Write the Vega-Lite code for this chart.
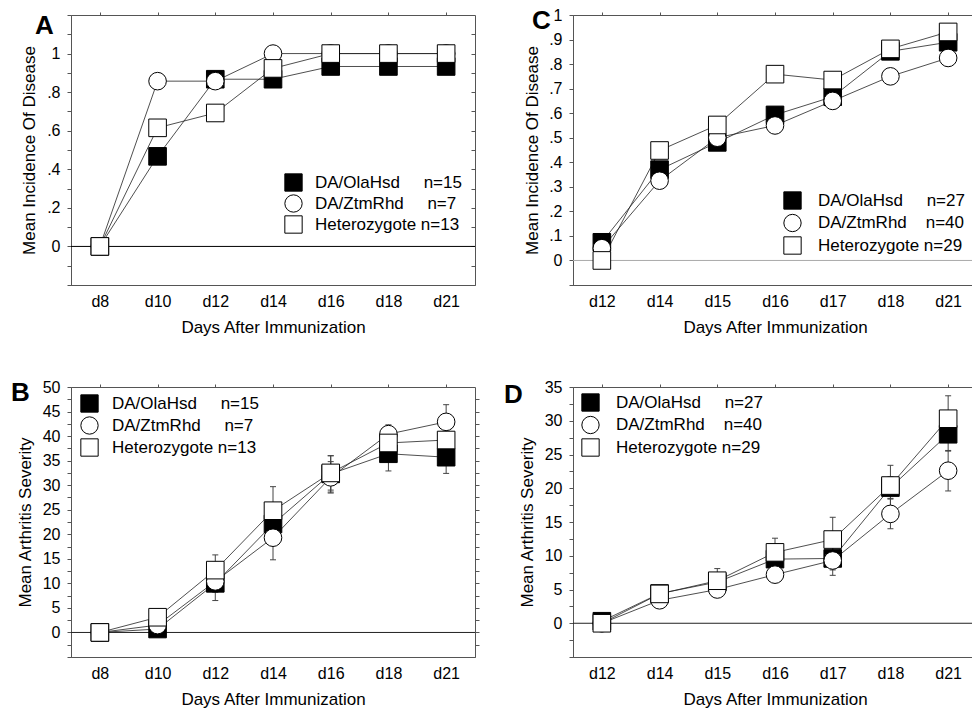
{
  "$schema": "https://vega.github.io/schema/vega-lite/v6.json",
  "padding": {"left": 10, "top": 6, "right": 0, "bottom": 0},
  "background": "white",
  "columns": 2,
  "spacing": {"row": 102, "column": 98},
  "bounds": "flush",
  "resolve": {"scale": {"shape": "independent", "fill": "independent"}, "legend": {"shape": "independent", "fill": "independent"}},
  "datasets": {
    "incA": [
      {"day": 8, "strain": "DA/OlaHsd", "v": 0}, {"day": 10, "strain": "DA/OlaHsd", "v": 0.467}, {"day": 12, "strain": "DA/OlaHsd", "v": 0.867}, {"day": 14, "strain": "DA/OlaHsd", "v": 0.867}, {"day": 16, "strain": "DA/OlaHsd", "v": 0.933}, {"day": 18, "strain": "DA/OlaHsd", "v": 0.933}, {"day": 21, "strain": "DA/OlaHsd", "v": 0.933},
      {"day": 8, "strain": "DA/ZtmRhd", "v": 0}, {"day": 10, "strain": "DA/ZtmRhd", "v": 0.857}, {"day": 12, "strain": "DA/ZtmRhd", "v": 0.857}, {"day": 14, "strain": "DA/ZtmRhd", "v": 1}, {"day": 16, "strain": "DA/ZtmRhd", "v": 1}, {"day": 18, "strain": "DA/ZtmRhd", "v": 1}, {"day": 21, "strain": "DA/ZtmRhd", "v": 1},
      {"day": 8, "strain": "Heterozygote", "v": 0}, {"day": 10, "strain": "Heterozygote", "v": 0.615}, {"day": 12, "strain": "Heterozygote", "v": 0.692}, {"day": 14, "strain": "Heterozygote", "v": 0.923}, {"day": 16, "strain": "Heterozygote", "v": 1}, {"day": 18, "strain": "Heterozygote", "v": 1}, {"day": 21, "strain": "Heterozygote", "v": 1}
    ],
    "incC": [
      {"day": 12, "strain": "DA/OlaHsd", "v": 0.074}, {"day": 14, "strain": "DA/OlaHsd", "v": 0.37}, {"day": 15, "strain": "DA/OlaHsd", "v": 0.481}, {"day": 16, "strain": "DA/OlaHsd", "v": 0.593}, {"day": 17, "strain": "DA/OlaHsd", "v": 0.667}, {"day": 18, "strain": "DA/OlaHsd", "v": 0.852}, {"day": 21, "strain": "DA/OlaHsd", "v": 0.889},
      {"day": 12, "strain": "DA/ZtmRhd", "v": 0.05}, {"day": 14, "strain": "DA/ZtmRhd", "v": 0.325}, {"day": 15, "strain": "DA/ZtmRhd", "v": 0.5}, {"day": 16, "strain": "DA/ZtmRhd", "v": 0.55}, {"day": 17, "strain": "DA/ZtmRhd", "v": 0.65}, {"day": 18, "strain": "DA/ZtmRhd", "v": 0.75}, {"day": 21, "strain": "DA/ZtmRhd", "v": 0.825},
      {"day": 12, "strain": "Heterozygote", "v": 0}, {"day": 14, "strain": "Heterozygote", "v": 0.448}, {"day": 15, "strain": "Heterozygote", "v": 0.552}, {"day": 16, "strain": "Heterozygote", "v": 0.759}, {"day": 17, "strain": "Heterozygote", "v": 0.735}, {"day": 18, "strain": "Heterozygote", "v": 0.862}, {"day": 21, "strain": "Heterozygote", "v": 0.931}
    ],
    "sevB": [
      {"day": 8, "strain": "DA/OlaHsd", "v": 0}, {"day": 10, "strain": "DA/OlaHsd", "v": 0.7, "lo": 0.2, "hi": 1.2}, {"day": 12, "strain": "DA/OlaHsd", "v": 10.0, "lo": 8.2, "hi": 11.8}, {"day": 14, "strain": "DA/OlaHsd", "v": 22.1, "lo": 19.8, "hi": 24.4}, {"day": 16, "strain": "DA/OlaHsd", "v": 32.3, "lo": 28.6, "hi": 36.0}, {"day": 18, "strain": "DA/OlaHsd", "v": 36.4, "lo": 32.9, "hi": 39.9}, {"day": 21, "strain": "DA/OlaHsd", "v": 35.7, "lo": 32.4, "hi": 39.0},
      {"day": 8, "strain": "DA/ZtmRhd", "v": 0}, {"day": 10, "strain": "DA/ZtmRhd", "v": 1.5, "lo": 0.5, "hi": 2.5}, {"day": 12, "strain": "DA/ZtmRhd", "v": 10.4, "lo": 6.5, "hi": 14.3}, {"day": 14, "strain": "DA/ZtmRhd", "v": 19.3, "lo": 14.8, "hi": 23.8}, {"day": 16, "strain": "DA/ZtmRhd", "v": 31.6, "lo": 28.4, "hi": 34.8}, {"day": 18, "strain": "DA/ZtmRhd", "v": 40.4, "lo": 38.5, "hi": 42.3}, {"day": 21, "strain": "DA/ZtmRhd", "v": 42.9, "lo": 39.4, "hi": 46.4},
      {"day": 8, "strain": "Heterozygote", "v": 0}, {"day": 10, "strain": "Heterozygote", "v": 3.1, "lo": 2.1, "hi": 4.1}, {"day": 12, "strain": "Heterozygote", "v": 12.7, "lo": 9.6, "hi": 15.8}, {"day": 14, "strain": "Heterozygote", "v": 24.8, "lo": 19.9, "hi": 29.7}, {"day": 16, "strain": "Heterozygote", "v": 32.5, "lo": 29.0, "hi": 36.0}, {"day": 18, "strain": "Heterozygote", "v": 38.6, "lo": 36.1, "hi": 41.1}, {"day": 21, "strain": "Heterozygote", "v": 39.2, "lo": 35.9, "hi": 42.5}
    ],
    "sevD": [
      {"day": 12, "strain": "DA/OlaHsd", "v": 0.3, "lo": 0, "hi": 1.3}, {"day": 14, "strain": "DA/OlaHsd", "v": 4.4, "lo": 3.6, "hi": 5.2}, {"day": 15, "strain": "DA/OlaHsd", "v": 6.1, "lo": 4.9, "hi": 7.3}, {"day": 16, "strain": "DA/OlaHsd", "v": 9.5, "lo": 8.0, "hi": 11.0}, {"day": 17, "strain": "DA/OlaHsd", "v": 9.6, "lo": 7.9, "hi": 11.3}, {"day": 18, "strain": "DA/OlaHsd", "v": 20.1, "lo": 18.5, "hi": 21.7}, {"day": 21, "strain": "DA/OlaHsd", "v": 28.0, "lo": 25.5, "hi": 30.5},
      {"day": 12, "strain": "DA/ZtmRhd", "v": 0}, {"day": 14, "strain": "DA/ZtmRhd", "v": 3.4, "lo": 2.8, "hi": 4.0}, {"day": 15, "strain": "DA/ZtmRhd", "v": 5.0, "lo": 4.2, "hi": 5.8}, {"day": 16, "strain": "DA/ZtmRhd", "v": 7.2, "lo": 6.2, "hi": 8.2}, {"day": 17, "strain": "DA/ZtmRhd", "v": 9.3, "lo": 7.1, "hi": 11.5}, {"day": 18, "strain": "DA/ZtmRhd", "v": 16.2, "lo": 14.0, "hi": 18.4}, {"day": 21, "strain": "DA/ZtmRhd", "v": 22.6, "lo": 19.6, "hi": 25.6},
      {"day": 12, "strain": "Heterozygote", "v": 0}, {"day": 14, "strain": "Heterozygote", "v": 4.35, "lo": 3.15, "hi": 5.55}, {"day": 15, "strain": "Heterozygote", "v": 6.3, "lo": 4.5, "hi": 8.1}, {"day": 16, "strain": "Heterozygote", "v": 10.5, "lo": 8.4, "hi": 12.6}, {"day": 17, "strain": "Heterozygote", "v": 12.4, "lo": 9.1, "hi": 15.7}, {"day": 18, "strain": "Heterozygote", "v": 20.4, "lo": 17.4, "hi": 23.4}, {"day": 21, "strain": "Heterozygote", "v": 30.3, "lo": 26.9, "hi": 33.7}
    ]
  },
  "concat": [
    {
      "width": 404, "height": 270,
      "title": {"text": "A", "anchor": "start", "frame": "group", "fontSize": 26, "fontWeight": "bold", "color": "black", "dx": -36, "offset": 0, "dy": 48, "baseline": "alphabetic"},
      "data": {"name": "incA"},
      "resolve": {"axis": {"x": "independent", "y": "independent"}},
      "layer": [
        {"data": {"values": [{}]}, "mark": {"type": "rule", "color": "black", "strokeWidth": 1}, "encoding": {"y": {"datum": 0, "type": "quantitative", "scale": {"domain": [-0.2, 1.2], "nice": false, "zero": false}, "axis": null}}},
        {"mark": {"type": "line", "color": "#222", "strokeWidth": 0.8}, "encoding": {
          "x": {"field": "day", "type": "ordinal", "scale": {"type": "point", "padding": 0.5, "domain": [8, 10, 12, 14, 16, 18, 21]}, "axis": {"orient": "bottom", "title": "Days After Immunization", "labelExpr": "'d' + datum.value", "labelAngle": 0, "ticks": false, "labelPadding": 8, "titlePadding": 10}},
          "y": {"field": "v", "type": "quantitative", "scale": {"domain": [-0.2, 1.2], "nice": false, "zero": false}, "axis": {"orient": "left", "title": "Mean Incidence Of Disease", "values": [-0.2, -0.1, 0, 0.1, 0.2, 0.3, 0.4, 0.5, 0.6, 0.7, 0.8, 0.9, 1, 1.1, 1.2], "labelExpr": "datum.value < -0.001 || datum.value > 1.001 || round(datum.value*10) % 2 != 0 ? '' : datum.value == 0 ? '0' : datum.value == 1 ? '1' : replace(format(datum.value, '.1f'), '0.', '.')", "tickSize": 4, "labelPadding": 7, "titlePadding": 8}},
          "detail": {"field": "strain"}}},
        {"mark": {"type": "point", "filled": true, "stroke": "black", "strokeWidth": 1, "opacity": 1, "size": 310}, "encoding": {
          "x": {"field": "day", "type": "ordinal", "scale": {"type": "point", "padding": 0.5, "domain": [8, 10, 12, 14, 16, 18, 21]}, "axis": {"orient": "top", "labels": false, "title": null, "domain": false, "tickSize": 3}},
          "y": {"field": "v", "type": "quantitative", "scale": {"domain": [-0.2, 1.2], "nice": false, "zero": false}, "axis": {"orient": "right", "labels": false, "title": null, "domain": false, "tickSize": -4, "values": [-0.1, 0, 0.1, 0.2, 0.3, 0.4, 0.5, 0.6, 0.7, 0.8, 0.9, 1, 1.1]}},
          "shape": {"field": "strain", "type": "nominal", "scale": {"domain": ["DA/OlaHsd", "DA/ZtmRhd", "Heterozygote"], "range": ["square", "circle", "square"]},
            "legend": {"orient": "none", "legendX": 213, "legendY": 158, "title": null, "padding": 0, "symbolSize": 300, "symbolStrokeWidth": 1, "labelOffset": 12, "rowPadding": -3, "labelExpr": "datum.value == 'DA/OlaHsd' ? 'DA/OlaHsd\u00a0\u00a0\u00a0\u00a0\u00a0n=15' : datum.value == 'DA/ZtmRhd' ? 'DA/ZtmRhd\u00a0\u00a0\u00a0\u00a0\u00a0n=7' : 'Heterozygote n=13'"}},
          "fill": {"field": "strain", "type": "nominal", "scale": {"domain": ["DA/OlaHsd", "DA/ZtmRhd", "Heterozygote"], "range": ["black", "white", "white"]},
            "legend": {"orient": "none", "legendX": 213, "legendY": 158, "title": null, "padding": 0, "symbolSize": 300, "symbolStrokeWidth": 1, "labelOffset": 12, "rowPadding": -3, "labelExpr": "datum.value == 'DA/OlaHsd' ? 'DA/OlaHsd\u00a0\u00a0\u00a0\u00a0\u00a0n=15' : datum.value == 'DA/ZtmRhd' ? 'DA/ZtmRhd\u00a0\u00a0\u00a0\u00a0\u00a0n=7' : 'Heterozygote n=13'"}}
        }}
      ]
    },
    {
      "width": 404, "height": 270,
      "title": {"text": "C", "anchor": "start", "frame": "group", "fontSize": 26, "fontWeight": "bold", "color": "black", "dx": -41, "offset": 0, "dy": 48, "baseline": "alphabetic"},
      "data": {"name": "incC"},
      "resolve": {"axis": {"x": "independent", "y": "independent"}},
      "layer": [
        {"data": {"values": [{}]}, "mark": {"type": "rule", "color": "#aaa", "strokeWidth": 1}, "encoding": {"y": {"datum": 0, "type": "quantitative", "scale": {"domain": [-0.1, 1.0], "nice": false, "zero": false}, "axis": null}}},
        {"mark": {"type": "line", "color": "#222", "strokeWidth": 0.8}, "encoding": {
          "x": {"field": "day", "type": "ordinal", "scale": {"type": "point", "padding": 0.5, "domain": [12, 14, 15, 16, 17, 18, 21]}, "axis": {"orient": "bottom", "title": "Days After Immunization", "labelExpr": "'d' + datum.value", "labelAngle": 0, "ticks": false, "labelPadding": 8, "titlePadding": 10}},
          "y": {"field": "v", "type": "quantitative", "scale": {"domain": [-0.1, 1.0], "nice": false, "zero": false}, "axis": {"orient": "left", "title": "Mean Incidence Of Disease", "values": [-0.1, 0, 0.1, 0.2, 0.3, 0.4, 0.5, 0.6, 0.7, 0.8, 0.9, 1], "labelExpr": "datum.value < -0.001 ? '' : datum.value == 0 ? '0' : datum.value == 1 ? '1' : replace(format(datum.value, '.1f'), '0.', '.')", "tickSize": 4, "labelPadding": 7, "titlePadding": 7}},
          "detail": {"field": "strain"}}},
        {"mark": {"type": "point", "filled": true, "stroke": "black", "strokeWidth": 1, "opacity": 1, "size": 310}, "encoding": {
          "x": {"field": "day", "type": "ordinal", "scale": {"type": "point", "padding": 0.5, "domain": [12, 14, 15, 16, 17, 18, 21]}, "axis": {"orient": "top", "labels": false, "title": null, "domain": false, "tickSize": 3}},
          "y": {"field": "v", "type": "quantitative", "scale": {"domain": [-0.1, 1.0], "nice": false, "zero": false}, "axis": null},
          "shape": {"field": "strain", "type": "nominal", "scale": {"domain": ["DA/OlaHsd", "DA/ZtmRhd", "Heterozygote"], "range": ["square", "circle", "square"]},
            "legend": {"orient": "none", "legendX": 210, "legendY": 176, "title": null, "padding": 0, "symbolSize": 300, "symbolStrokeWidth": 1, "labelOffset": 16, "rowPadding": -0.5, "labelExpr": "datum.value == 'DA/OlaHsd' ? 'DA/OlaHsd\u00a0\u00a0\u00a0\u00a0\u00a0n=27' : datum.value == 'DA/ZtmRhd' ? 'DA/ZtmRhd\u00a0\u00a0\u00a0\u00a0n=40' : 'Heterozygote n=29'"}},
          "fill": {"field": "strain", "type": "nominal", "scale": {"domain": ["DA/OlaHsd", "DA/ZtmRhd", "Heterozygote"], "range": ["black", "white", "white"]},
            "legend": {"orient": "none", "legendX": 210, "legendY": 176, "title": null, "padding": 0, "symbolSize": 300, "symbolStrokeWidth": 1, "labelOffset": 16, "rowPadding": -0.5, "labelExpr": "datum.value == 'DA/OlaHsd' ? 'DA/OlaHsd\u00a0\u00a0\u00a0\u00a0\u00a0n=27' : datum.value == 'DA/ZtmRhd' ? 'DA/ZtmRhd\u00a0\u00a0\u00a0\u00a0n=40' : 'Heterozygote n=29'"}}
        }}
      ]
    },
    {
      "width": 404, "height": 270,
      "title": {"text": "B", "anchor": "start", "frame": "group", "fontSize": 26, "fontWeight": "bold", "color": "black", "dx": -60, "offset": 0, "dy": 48, "baseline": "alphabetic"},
      "data": {"name": "sevB"},
      "resolve": {"axis": {"x": "independent", "y": "independent"}},
      "layer": [
        {"data": {"values": [{}]}, "mark": {"type": "rule", "color": "#222", "strokeWidth": 1}, "encoding": {"y": {"datum": 0, "type": "quantitative", "scale": {"domain": [-5, 50], "nice": false, "zero": false}, "axis": null}}},
        {"mark": {"type": "rule", "color": "#444", "strokeWidth": 1}, "encoding": {
          "x": {"field": "day", "type": "ordinal", "scale": {"type": "point", "padding": 0.5, "domain": [8, 10, 12, 14, 16, 18, 21]}, "axis": null},
          "y": {"field": "lo", "type": "quantitative", "scale": {"domain": [-5, 50], "nice": false, "zero": false}, "axis": null},
          "y2": {"field": "hi"}}},
        {"mark": {"type": "tick", "color": "#444", "thickness": 1, "size": 6, "opacity": 1}, "encoding": {
          "x": {"field": "day", "type": "ordinal", "scale": {"type": "point", "padding": 0.5, "domain": [8, 10, 12, 14, 16, 18, 21]}, "axis": null},
          "y": {"field": "hi", "type": "quantitative", "scale": {"domain": [-5, 50], "nice": false, "zero": false}, "axis": null}}},
        {"mark": {"type": "tick", "color": "#444", "thickness": 1, "size": 6, "opacity": 1}, "encoding": {
          "x": {"field": "day", "type": "ordinal", "scale": {"type": "point", "padding": 0.5, "domain": [8, 10, 12, 14, 16, 18, 21]}, "axis": null},
          "y": {"field": "lo", "type": "quantitative", "scale": {"domain": [-5, 50], "nice": false, "zero": false}, "axis": null}}},
        {"mark": {"type": "line", "color": "#222", "strokeWidth": 0.8}, "encoding": {
          "x": {"field": "day", "type": "ordinal", "scale": {"type": "point", "padding": 0.5, "domain": [8, 10, 12, 14, 16, 18, 21]}, "axis": {"orient": "bottom", "title": "Days After Immunization", "labelExpr": "'d' + datum.value", "labelAngle": 0, "ticks": false, "labelPadding": 8, "titlePadding": 10}},
          "y": {"field": "v", "type": "quantitative", "scale": {"domain": [-5, 50], "nice": false, "zero": false}, "axis": {"orient": "left", "title": "Mean Arthritis Severity", "values": [-5, -2.5, 0, 2.5, 5, 7.5, 10, 12.5, 15, 17.5, 20, 22.5, 25, 27.5, 30, 32.5, 35, 37.5, 40, 42.5, 45, 47.5, 50], "labelExpr": "datum.value < 0 || datum.value % 5 != 0 ? '' : datum.label", "tickSize": 4, "labelPadding": 7, "titlePadding": 8}},
          "detail": {"field": "strain"}}},
        {"mark": {"type": "point", "filled": true, "stroke": "black", "strokeWidth": 1, "opacity": 1, "size": 310}, "encoding": {
          "x": {"field": "day", "type": "ordinal", "scale": {"type": "point", "padding": 0.5, "domain": [8, 10, 12, 14, 16, 18, 21]}, "axis": {"orient": "top", "labels": false, "title": null, "domain": false, "tickSize": 3}},
          "y": {"field": "v", "type": "quantitative", "scale": {"domain": [-5, 50], "nice": false, "zero": false}, "axis": {"orient": "right", "labels": false, "title": null, "domain": false, "tickSize": 4, "values": [-2.5, 0, 2.5, 5, 7.5, 10, 12.5, 15, 17.5, 20, 22.5, 25, 27.5, 30, 32.5, 35, 37.5, 40, 42.5, 45, 47.5]}},
          "shape": {"field": "strain", "type": "nominal", "scale": {"domain": ["DA/OlaHsd", "DA/ZtmRhd", "Heterozygote"], "range": ["square", "circle", "square"]},
            "legend": {"orient": "none", "legendX": 9, "legendY": 7, "title": null, "padding": 0, "symbolSize": 300, "symbolStrokeWidth": 1, "labelOffset": 13, "rowPadding": -1, "labelExpr": "datum.value == 'DA/OlaHsd' ? 'DA/OlaHsd\u00a0\u00a0\u00a0\u00a0\u00a0n=15' : datum.value == 'DA/ZtmRhd' ? 'DA/ZtmRhd\u00a0\u00a0\u00a0\u00a0\u00a0n=7' : 'Heterozygote n=13'"}},
          "fill": {"field": "strain", "type": "nominal", "scale": {"domain": ["DA/OlaHsd", "DA/ZtmRhd", "Heterozygote"], "range": ["black", "white", "white"]},
            "legend": {"orient": "none", "legendX": 9, "legendY": 7, "title": null, "padding": 0, "symbolSize": 300, "symbolStrokeWidth": 1, "labelOffset": 13, "rowPadding": -1, "labelExpr": "datum.value == 'DA/OlaHsd' ? 'DA/OlaHsd\u00a0\u00a0\u00a0\u00a0\u00a0n=15' : datum.value == 'DA/ZtmRhd' ? 'DA/ZtmRhd\u00a0\u00a0\u00a0\u00a0\u00a0n=7' : 'Heterozygote n=13'"}}
        }}
      ]
    },
    {
      "width": 404, "height": 270,
      "title": {"text": "D", "anchor": "start", "frame": "group", "fontSize": 26, "fontWeight": "bold", "color": "black", "dx": -69, "offset": 0, "dy": 50, "baseline": "alphabetic"},
      "data": {"name": "sevD"},
      "resolve": {"axis": {"x": "independent", "y": "independent"}},
      "layer": [
        {"data": {"values": [{}]}, "mark": {"type": "rule", "color": "#222", "strokeWidth": 1}, "encoding": {"y": {"datum": 0, "type": "quantitative", "scale": {"domain": [-5, 35], "nice": false, "zero": false}, "axis": null}}},
        {"mark": {"type": "rule", "color": "#444", "strokeWidth": 1}, "encoding": {
          "x": {"field": "day", "type": "ordinal", "scale": {"type": "point", "padding": 0.5, "domain": [12, 14, 15, 16, 17, 18, 21]}, "axis": null},
          "y": {"field": "lo", "type": "quantitative", "scale": {"domain": [-5, 35], "nice": false, "zero": false}, "axis": null},
          "y2": {"field": "hi"}}},
        {"mark": {"type": "tick", "color": "#444", "thickness": 1, "size": 6, "opacity": 1}, "encoding": {
          "x": {"field": "day", "type": "ordinal", "scale": {"type": "point", "padding": 0.5, "domain": [12, 14, 15, 16, 17, 18, 21]}, "axis": null},
          "y": {"field": "hi", "type": "quantitative", "scale": {"domain": [-5, 35], "nice": false, "zero": false}, "axis": null}}},
        {"mark": {"type": "tick", "color": "#444", "thickness": 1, "size": 6, "opacity": 1}, "encoding": {
          "x": {"field": "day", "type": "ordinal", "scale": {"type": "point", "padding": 0.5, "domain": [12, 14, 15, 16, 17, 18, 21]}, "axis": null},
          "y": {"field": "lo", "type": "quantitative", "scale": {"domain": [-5, 35], "nice": false, "zero": false}, "axis": null}}},
        {"mark": {"type": "line", "color": "#222", "strokeWidth": 0.8}, "encoding": {
          "x": {"field": "day", "type": "ordinal", "scale": {"type": "point", "padding": 0.5, "domain": [12, 14, 15, 16, 17, 18, 21]}, "axis": {"orient": "bottom", "title": "Days After Immunization", "labelExpr": "'d' + datum.value", "labelAngle": 0, "ticks": false, "labelPadding": 8, "titlePadding": 10}},
          "y": {"field": "v", "type": "quantitative", "scale": {"domain": [-5, 35], "nice": false, "zero": false}, "axis": {"orient": "left", "title": "Mean Arthritis Severity", "values": [-5, -2.5, 0, 2.5, 5, 7.5, 10, 12.5, 15, 17.5, 20, 22.5, 25, 27.5, 30, 32.5, 35], "labelExpr": "datum.value < 0 || datum.value % 5 != 0 ? '' : datum.label", "tickSize": 4, "labelPadding": 7, "titlePadding": 8}},
          "detail": {"field": "strain"}}},
        {"mark": {"type": "point", "filled": true, "stroke": "black", "strokeWidth": 1, "opacity": 1, "size": 310}, "encoding": {
          "x": {"field": "day", "type": "ordinal", "scale": {"type": "point", "padding": 0.5, "domain": [12, 14, 15, 16, 17, 18, 21]}, "axis": {"orient": "top", "labels": false, "title": null, "domain": false, "tickSize": 3}},
          "y": {"field": "v", "type": "quantitative", "scale": {"domain": [-5, 35], "nice": false, "zero": false}, "axis": null},
          "shape": {"field": "strain", "type": "nominal", "scale": {"domain": ["DA/OlaHsd", "DA/ZtmRhd", "Heterozygote"], "range": ["square", "circle", "square"]},
            "legend": {"orient": "none", "legendX": 8, "legendY": 6, "title": null, "padding": 0, "symbolSize": 300, "symbolStrokeWidth": 1, "labelOffset": 16, "rowPadding": -0.5, "labelExpr": "datum.value == 'DA/OlaHsd' ? 'DA/OlaHsd\u00a0\u00a0\u00a0\u00a0\u00a0n=27' : datum.value == 'DA/ZtmRhd' ? 'DA/ZtmRhd\u00a0\u00a0\u00a0\u00a0n=40' : 'Heterozygote n=29'"}},
          "fill": {"field": "strain", "type": "nominal", "scale": {"domain": ["DA/OlaHsd", "DA/ZtmRhd", "Heterozygote"], "range": ["black", "white", "white"]},
            "legend": {"orient": "none", "legendX": 8, "legendY": 6, "title": null, "padding": 0, "symbolSize": 300, "symbolStrokeWidth": 1, "labelOffset": 16, "rowPadding": -0.5, "labelExpr": "datum.value == 'DA/OlaHsd' ? 'DA/OlaHsd\u00a0\u00a0\u00a0\u00a0\u00a0n=27' : datum.value == 'DA/ZtmRhd' ? 'DA/ZtmRhd\u00a0\u00a0\u00a0\u00a0n=40' : 'Heterozygote n=29'"}}
        }}
      ]
    }
  ],
  "config": {
    "font": "Liberation Sans",
    "view": {"stroke": "#555", "strokeWidth": 1},
    "axis": {"labelFont": "Liberation Sans", "labelFontSize": 16, "labelColor": "black", "titleFont": "Liberation Sans", "titleFontSize": 17, "titleFontWeight": "normal", "titleColor": "black", "grid": false, "domainColor": "#555", "tickColor": "#555"},
    "legend": {"labelFont": "Liberation Sans", "labelFontSize": 17, "labelColor": "black", "labelLimit": 300},
    "title": {"font": "Liberation Sans"}
  }
}
